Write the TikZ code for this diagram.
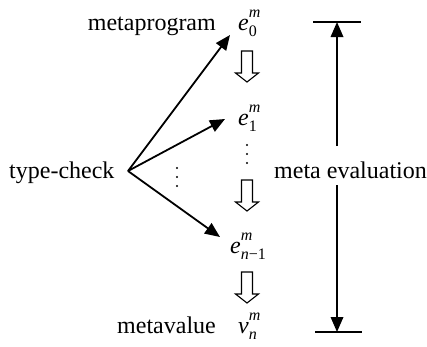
\documentclass[tikz,border=0pt]{standalone}
\usepackage{fontspec}
\setmainfont{Liberation Serif}
\usetikzlibrary{arrows.meta}
\newcommand{\scr}{\fontsize{16}{16}\selectfont}
\newcommand{\mvar}[3]{\textit{#1}\makebox[0pt][l]{\raisebox{0.52em}{\scr\textit{m}}}\raisebox{-0.28em}{\scr #2}}
\tikzset{
  lbl/.style={font=\fontsize{24}{28}\selectfont, inner sep=0pt},
  arr/.style={line width=1.8pt, -{Triangle[length=15pt,width=12.5pt]}},
  bar/.style={line width=1.2pt},
  hollowarr/.pic={\draw[line width=1.1pt, fill=white] (-5.5,0) -- (-5.5,22) -- (-11.5,22) -- (0,31) -- (11.5,22) -- (5.5,22) -- (5.5,0) -- cycle;},
  dot/.style={fill=black, circle, inner sep=0pt, minimum size=2.4pt}
}
\begin{document}
\begin{tikzpicture}[x=1pt,y=-1pt]
\useasboundingbox (0,0) rectangle (427,346);
% labels
\node[lbl, anchor=base east] (mp) at (216,30) {metaprogram};
\node[lbl, anchor=base east] (mv) at (216,333) {metavalue};
\node[lbl, anchor=base west] (tcl) at (9,178) {type-check};
\node[lbl, anchor=base west] (me) at (274,178) {meta evaluation};
% expressions
\node[lbl, anchor=base west] (e0) at (238,30) {\mvar{e}{0}{m}};
\node[lbl, anchor=base west] (e1) at (238,125) {\mvar{e}{1}{m}};
\node[lbl, anchor=base west] (en) at (230,253) {\mvar{e}{\textit{n}−1}{m}};
\node[lbl, anchor=base west] (vn) at (238,333) {\mvar{v}{\textit{n}}{m}};
% hub of type-check arrows
\coordinate (tc) at (128,171);
\coordinate (t0) at (230,35);
\coordinate (t1) at (225,119);
\coordinate (t2) at (220,237);
\draw[arr] (tc) -- (t0);
\draw[arr] (tc) -- (t1);
\draw[arr] (tc) -- (t2);
% dots
\node[dot] (d1) at (247,145) {};
\node[dot] (d2) at (247,154) {};
\node[dot] (d3) at (247,163) {};
\node[dot] (d4) at (177,168) {};
\node[dot] (d5) at (177,177) {};
\node[dot] (d6) at (177,186) {};
% hollow arrows
\pic at (247,51) {hollowarr};
\pic at (247,180) {hollowarr};
\pic at (247,272) {hollowarr};
% meta evaluation range
\coordinate (bt) at (337,22);
\coordinate (bb) at (337,332);
\coordinate (gt) at (337,146);
\coordinate (gb) at (337,185);
\draw[bar] (313,22) -- (361,22);
\draw[bar] (315,332) -- (362,332);
\draw[arr] (gt) -- (bt);
\draw[arr] (gb) -- (bb);
\end{tikzpicture}
\end{document}
